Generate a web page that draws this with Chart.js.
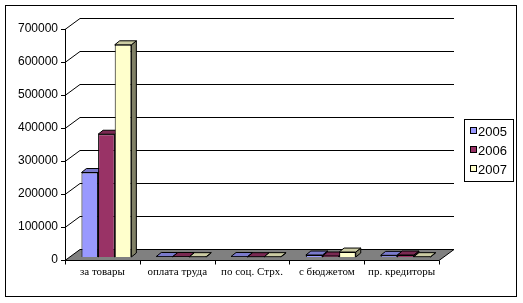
<!DOCTYPE html>
<html>
<head>
<meta charset="utf-8">
<script src="https://cdn.jsdelivr.net/npm/chart.js@4/dist/chart.umd.min.js"></script>
<style>
  html, body { margin: 0; padding: 0; background: #fff; }
  #wrap { width: 523px; height: 303px; }
</style>
</head>
<body>
<div id="wrap"><canvas id="debtChart" width="523" height="303"></canvas></div>
<script>
document.addEventListener('DOMContentLoaded', function() {
    // Data
    const categories = ['за товары', 'оплата труда', 'по соц. Стрх.', 'с бюджетом', 'пр. кредиторы'];
    const years = ['2005', '2006', '2007'];
    const values2005 = [256000, 1500, 1500, 6000, 5000];
    const values2006 = [372000, 1500, 1000, 3000, 6000];
    const values2007 = [643000, 1000, 1000, 15000, 1000];
    const yTicks = [0, 100000, 200000, 300000, 400000, 500000, 600000, 700000];

    const colors = ['#9999FF', '#993366', '#FFFFCC'];
    const topColors = ['#7a7acc', '#7a2952', '#cccca3'];
    const sideColors = ['#4d4d80', '#4d1a33', '#808066'];

    // 3D look: back wall offset, bar offset and bar depth
    const wall = { dx: 15, dy: -11 };
    const shift = { dx: 4, dy: -3 };
    const barDepth = { dx: 5, dy: -4 };

    const threeD = {
        id: 'threeD',
        beforeDraw(chart) {
            const ctx = chart.ctx;
            const area = chart.chartArea;
            const y = chart.scales.y;
            const x = chart.scales.x;
            ctx.save();
            ctx.fillStyle = '#fff';
            ctx.fillRect(0, 0, chart.width, chart.height);
            ctx.strokeStyle = '#000';
            ctx.lineWidth = 1;
            ctx.strokeRect(5.5, 5.5, 511, 291);

            // back wall gridlines with the diagonal on the left wall
            yTicks.forEach(function(v) {
                if (v === 0) return;
                const py = Math.round(y.getPixelForValue(v)) + 0.5;
                ctx.beginPath();
                ctx.moveTo(area.left - 4, py);
                ctx.lineTo(area.left, py);
                ctx.lineTo(area.left + wall.dx, py + wall.dy);
                ctx.lineTo(area.right + wall.dx, py + wall.dy);
                ctx.stroke();
            });

            // floor
            const by = Math.round(y.getPixelForValue(0)) + 0.5;
            ctx.beginPath();
            ctx.moveTo(area.left, by);
            ctx.lineTo(area.right, by);
            ctx.lineTo(area.right + wall.dx, by + wall.dy);
            ctx.lineTo(area.left + wall.dx, by + wall.dy);
            ctx.closePath();
            ctx.fillStyle = '#808080';
            ctx.fill();
            ctx.stroke();

            // front axes
            const lx = Math.round(area.left) + 0.5;
            ctx.beginPath();
            ctx.moveTo(lx, Math.round(y.getPixelForValue(700000)));
            ctx.lineTo(lx, by + 4);
            ctx.moveTo(area.left - 4, by);
            ctx.lineTo(area.right, by);
            for (let i = 1; i <= categories.length; i++) {
                const tx = Math.round(area.left + (area.right - area.left) * i / categories.length) + 0.5;
                ctx.moveTo(tx, by);
                ctx.lineTo(tx, by + 4);
            }
            ctx.stroke();
            ctx.restore();
        },
        beforeDatasetsDraw(chart) {
            const ctx = chart.ctx;
            ctx.save();
            ctx.translate(shift.dx, shift.dy);
            ctx.strokeStyle = '#000';
            ctx.lineWidth = 1;
            for (let i = 0; i < categories.length; i++) {
                for (let d = 0; d < chart.data.datasets.length; d++) {
                    const bar = chart.getDatasetMeta(d).data[i];
                    const p = bar.getProps(['x', 'y', 'base', 'width'], true);
                    const l = p.x - p.width / 2;
                    const r = p.x + p.width / 2;
                    // side face
                    ctx.beginPath();
                    ctx.moveTo(r, p.y);
                    ctx.lineTo(r + barDepth.dx, p.y + barDepth.dy);
                    ctx.lineTo(r + barDepth.dx, p.base + barDepth.dy);
                    ctx.lineTo(r, p.base);
                    ctx.closePath();
                    ctx.fillStyle = sideColors[d];
                    ctx.fill();
                    ctx.stroke();
                    // top face
                    ctx.beginPath();
                    ctx.moveTo(l, p.y);
                    ctx.lineTo(r, p.y);
                    ctx.lineTo(r + barDepth.dx, p.y + barDepth.dy);
                    ctx.lineTo(l + barDepth.dx, p.y + barDepth.dy);
                    ctx.closePath();
                    ctx.fillStyle = topColors[d];
                    ctx.fill();
                    ctx.stroke();
                }
            }
        },
        afterDatasetsDraw(chart) {
            chart.ctx.restore();
        },
        afterDraw(chart) {
            const ctx = chart.ctx;
            ctx.save();
            ctx.strokeStyle = '#000';
            ctx.lineWidth = 1;
            ctx.strokeRect(464.5, 119.5, 49, 62);
            ctx.font = '13px "Liberation Sans", Arial, sans-serif';
            ctx.textBaseline = 'middle';
            chart.data.datasets.forEach(function(ds, k) {
                const cy = 131 + k * 19;
                ctx.fillStyle = ds.backgroundColor;
                ctx.fillRect(470.5, cy - 3.5, 6, 6);
                ctx.strokeRect(470.5, cy - 3.5, 6, 6);
                ctx.fillStyle = '#000';
                ctx.fillText(ds.label, 478, cy + 1);
            });
            ctx.restore();
        }
    };

    const ctx = document.getElementById('debtChart').getContext('2d');
    new Chart(ctx, {
        type: 'bar',
        data: {
            labels: categories,
            datasets: [
                { label: years[0], data: values2005, backgroundColor: colors[0], borderColor: '#000', borderWidth: 1 },
                { label: years[1], data: values2006, backgroundColor: colors[1], borderColor: '#000', borderWidth: 1 },
                { label: years[2], data: values2007, backgroundColor: colors[2], borderColor: '#000', borderWidth: 1 }
            ]
        },
        options: {
            responsive: false,
            animation: false,
            layout: { padding: { top: 29, right: 84, bottom: 0, left: 0 } },
            datasets: { bar: { categoryPercentage: 0.667, barPercentage: 1.0 } },
            plugins: {
                legend: { display: false },
                tooltip: { enabled: false }
            },
            scales: {
                x: {
                    grid: { display: false, drawTicks: false },
                    border: { display: false },
                    ticks: {
                        color: '#000',
                        padding: 6,
                        maxRotation: 0,
                        autoSkip: false,
                        font: { family: '"Liberation Serif", "Times New Roman", serif', size: 11 }
                    },
                    afterFit(scale) { scale.height = 43; }
                },
                y: {
                    min: 0,
                    max: 700000,
                    grid: { display: false, drawTicks: false },
                    border: { display: false },
                    afterBuildTicks(scale) { scale.ticks = yTicks.map(function(v) { return { value: v }; }); },
                    ticks: {
                        color: '#000',
                        padding: 7,
                        font: { family: '"Liberation Sans", Arial, sans-serif', size: 12 },
                        callback: function(v) { return String(v); }
                    },
                    afterFit(scale) { scale.width = 65; }
                }
            }
        },
        plugins: [threeD]
    });
});
</script>
</body>
</html>
